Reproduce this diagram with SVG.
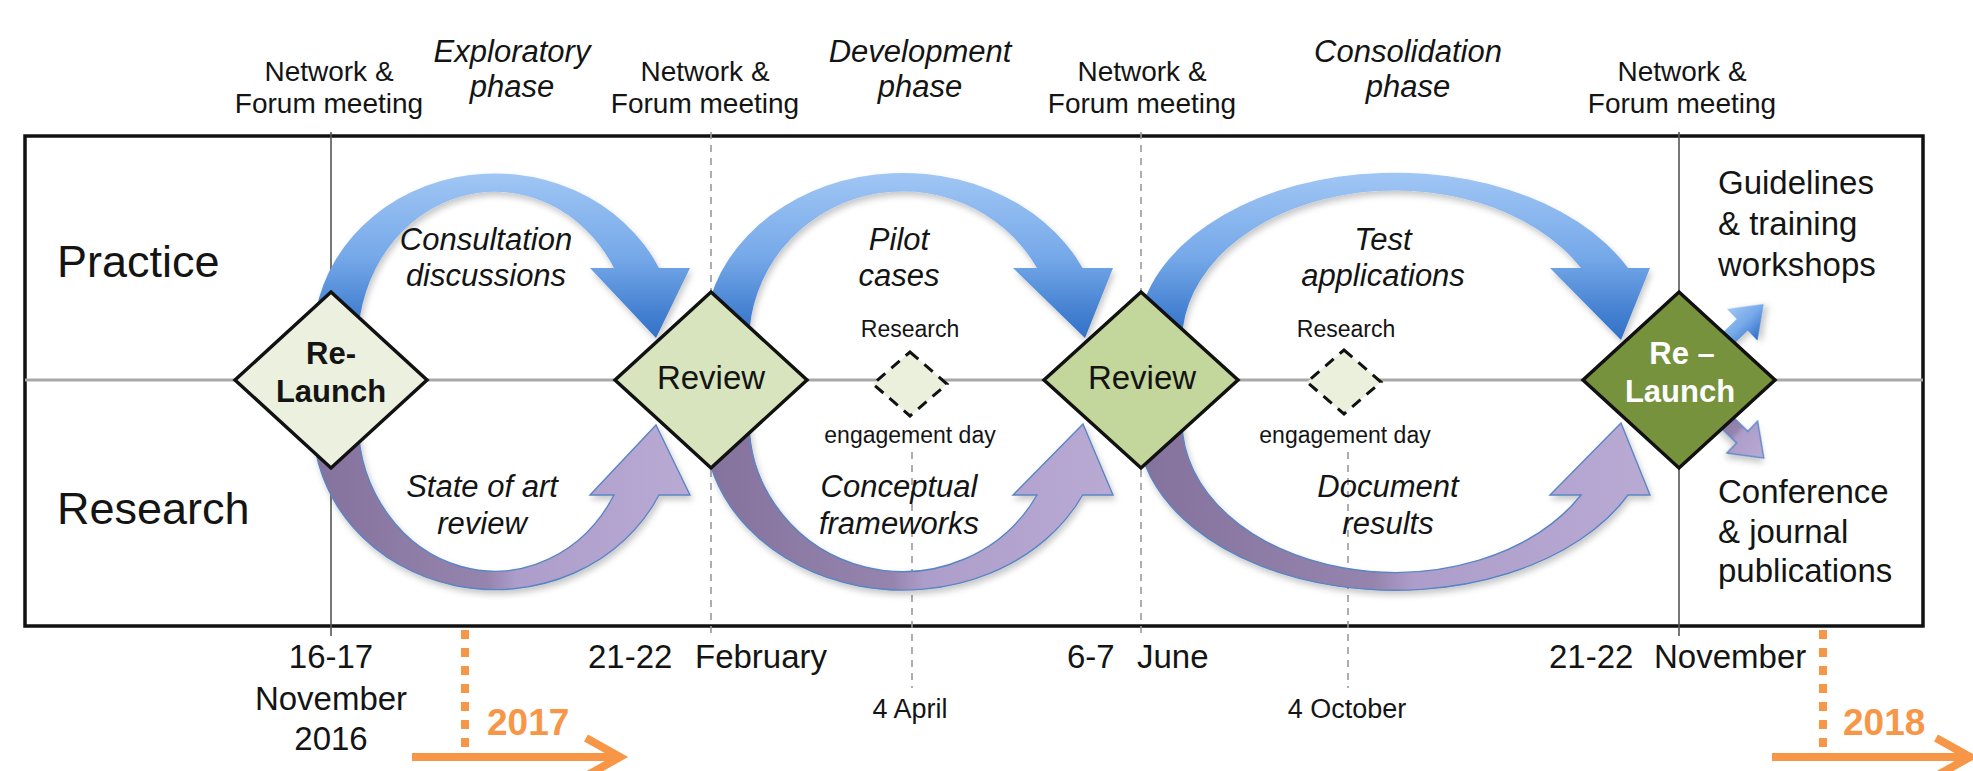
<svg xmlns="http://www.w3.org/2000/svg" width="1973" height="771" viewBox="0 0 1973 771">
<style>
  text { font-family: "Liberation Sans", Arial, sans-serif; fill: #141414; }
  .net { font-size: 28px; text-anchor: middle; }
  .phase { font-size: 31px; font-style: italic; text-anchor: middle; }
  .lane { font-size: 45px; }
  .lbl { font-size: 31px; font-style: italic; text-anchor: middle; }
  .small { font-size: 23px; text-anchor: middle; }
  .date { font-size: 33px; }
  .datec { font-size: 33px; text-anchor: middle; }
  .dsmall { font-size: 27px; text-anchor: middle; }
  .out { font-size: 33px; }
  .year { font-size: 37px; font-weight: bold; fill: #f79646; }
  .dtext { font-size: 33px; text-anchor: middle; }
  .btext { font-size: 31px; font-weight: bold; text-anchor: middle; }
  .diamond { stroke: #111; stroke-width: 3.5; stroke-linejoin: miter; }
  .sdiamond { fill: #eaf0dc; stroke: #111; stroke-width: 3; stroke-dasharray: 11 8; }
  .vsolid { stroke: #555; stroke-width: 1.6; }
  .vdash { stroke: #9a9a9a; stroke-width: 1.6; stroke-dasharray: 7 6; }
  .blue { fill: url(#gBlue); filter: url(#shadow); }
  .purple { fill: url(#gPurple); stroke: #5a85c4; stroke-width: 1.4; filter: url(#shadow); }
  .orange { stroke: #f79646; stroke-width: 8; fill: none; }
</style>
<defs>
  <linearGradient id="gBlue" x1="0" y1="0" x2="0" y2="1">
    <stop offset="0" stop-color="#a0c6f4"/>
    <stop offset="0.5" stop-color="#76a9e9"/>
    <stop offset="0.85" stop-color="#427fd0"/>
    <stop offset="1" stop-color="#3270c6"/>
  </linearGradient>
  <linearGradient id="gPurple" x1="0" y1="0" x2="1" y2="0">
    <stop offset="0" stop-color="#84729c"/>
    <stop offset="0.46" stop-color="#9584ad"/>
    <stop offset="0.54" stop-color="#ad9dca"/>
    <stop offset="1" stop-color="#b9aad4"/>
  </linearGradient>
  <filter id="shadow" x="-10%" y="-10%" width="120%" height="125%">
    <feDropShadow dx="2" dy="4" stdDeviation="3" flood-color="#000" flood-opacity="0.22"/>
  </filter>
</defs>

<rect x="0" y="0" width="1973" height="771" fill="#ffffff"/>

<g id="frame">
  <rect x="25" y="136" width="1898" height="490" fill="#ffffff" stroke="#111" stroke-width="3.5"/>
  <line x1="25" y1="380" x2="1923" y2="380" stroke="#a8a8a8" stroke-width="3"/>
  <line class="vsolid" x1="331" y1="132" x2="331" y2="636"/>
  <line class="vsolid" x1="1679" y1="132" x2="1679" y2="636"/>
  <line class="vdash" x1="711" y1="132" x2="711" y2="636"/>
  <line class="vdash" x1="1141" y1="132" x2="1141" y2="636"/>
  <line class="vdash" x1="912" y1="452" x2="912" y2="688"/>
  <line class="vdash" x1="1348" y1="452" x2="1348" y2="688"/>
</g>

<g id="lanes">
  <text class="lane" x="57" y="277">Practice</text>
  <text class="lane" x="57" y="524">Research</text>
</g>

<g id="top-labels">
  <text class="net" x="329" y="81">Network &amp;</text>
  <text class="net" x="329" y="113">Forum meeting</text>
  <text class="net" x="705" y="81">Network &amp;</text>
  <text class="net" x="705" y="113">Forum meeting</text>
  <text class="net" x="1142" y="81">Network &amp;</text>
  <text class="net" x="1142" y="113">Forum meeting</text>
  <text class="net" x="1682" y="81">Network &amp;</text>
  <text class="net" x="1682" y="113">Forum meeting</text>
  <text class="phase" x="512" y="62">Exploratory</text>
  <text class="phase" x="512" y="97">phase</text>
  <text class="phase" x="920" y="62">Development</text>
  <text class="phase" x="920" y="97">phase</text>
  <text class="phase" x="1408" y="62">Consolidation</text>
  <text class="phase" x="1408" y="97">phase</text>
</g>

<g id="connectors">
  <!-- blue (practice) arcs -->
  <path class="blue" d="M313,340 A182,167 0 0 1 659,268 L690,268 L656,338 L590,268 L614,268 A137,151 0 0 0 358,340 Z"/>
  <path class="blue" d="M704,340 A199,167 0 0 1 1082.6,268 L1113,268 L1085,338 L1013,268 L1037,268 A154,151 0 0 0 749,340 Z"/>
  <path class="blue" d="M1137,340 A258,167 0 0 1 1628,268 L1650,268 L1621,340 L1550,268 L1581,268 A213,151 0 0 0 1182,340 Z"/>
  <!-- purple (research) arcs -->
  <path class="purple" d="M313,423 A182,167 0 0 0 659,495 L690,495 L656,425 L590,495 L614,495 A137,151 0 0 1 358,423 Z"/>
  <path class="purple" d="M704,423 A199,167 0 0 0 1082.6,495 L1113,495 L1083,424 L1013,495 L1037,495 A154,151 0 0 1 749,423 Z"/>
  <path class="purple" d="M1137,423 A258,167 0 0 0 1628,495 L1650,495 L1621,423 L1550,495 L1581,495 A213,151 0 0 1 1182,423 Z"/>
  <!-- outputs from final re-launch -->
  <polygon class="blue" transform="translate(1712,354) rotate(-44)" points="0,-8 42,-8 42,-22 72,0 42,22 42,8 0,8"/>
  <polygon class="purple" transform="translate(1712,408) rotate(44)" points="0,-8 42,-8 42,-22 72,0 42,22 42,8 0,8"/>
</g>

<g id="node-relaunch-1">
  <polygon class="diamond" fill="#ebf1de" points="331,292 427,380 331,468 235,380"/>
  <text class="btext" x="331" y="364">Re-</text>
  <text class="btext" x="331" y="402">Launch</text>
</g>
<g id="node-review-1">
  <polygon class="diamond" fill="#d7e4bd" points="711,292 807,380 711,468 615,380"/>
  <text class="dtext" x="711" y="389">Review</text>
</g>
<g id="node-review-2">
  <polygon class="diamond" fill="#c3d69b" points="1141,292 1238,380 1141,468 1044,380"/>
  <text class="dtext" x="1142" y="389">Review</text>
</g>
<g id="node-relaunch-2">
  <polygon class="diamond" fill="#76923c" points="1679,292 1775,380 1679,468 1583,380"/>
  <text class="btext" x="1682" y="364" style="fill:#ffffff">Re –</text>
  <text class="btext" x="1680" y="402" style="fill:#ffffff">Launch</text>
</g>
<g id="node-engagement-1">
  <text class="small" x="910" y="337">Research</text>
  <polygon class="sdiamond" points="910,352 947,384 910,416 873,384"/>
  <text class="small" x="910" y="443">engagement day</text>
</g>
<g id="node-engagement-2">
  <text class="small" x="1346" y="337">Research</text>
  <polygon class="sdiamond" points="1344,350 1381,382 1344,414 1307,382"/>
  <text class="small" x="1345" y="443">engagement day</text>
</g>

<g id="arc-labels">
  <text class="lbl" x="486" y="250">Consultation</text>
  <text class="lbl" x="486" y="286">discussions</text>
  <text class="lbl" x="482" y="497">State of art</text>
  <text class="lbl" x="482" y="534">review</text>
  <text class="lbl" x="899" y="250">Pilot</text>
  <text class="lbl" x="899" y="286">cases</text>
  <text class="lbl" x="899" y="497">Conceptual</text>
  <text class="lbl" x="899" y="534">frameworks</text>
  <text class="lbl" x="1383" y="250">Test</text>
  <text class="lbl" x="1383" y="286">applications</text>
  <text class="lbl" x="1388" y="497">Document</text>
  <text class="lbl" x="1388" y="534">results</text>
</g>

<g id="outputs">
  <text class="out" x="1718" y="194">Guidelines</text>
  <text class="out" x="1718" y="235">&amp; training</text>
  <text class="out" x="1718" y="276">workshops</text>
  <text class="out" x="1718" y="503">Conference</text>
  <text class="out" x="1718" y="543">&amp; journal</text>
  <text class="out" x="1718" y="582">publications</text>
</g>

<g id="dates">
  <text class="datec" x="331" y="668">16-17</text>
  <text class="datec" x="331" y="710">November</text>
  <text class="datec" x="331" y="750">2016</text>
  <text class="date" x="588" y="668">21-22<tspan x="695">February</tspan></text>
  <text class="date" x="1067" y="668">6-7<tspan x="1137">June</tspan></text>
  <text class="date" x="1549" y="668">21-22<tspan x="1654">November</tspan></text>
  <text class="dsmall" x="910" y="718">4 April</text>
  <text class="dsmall" x="1347" y="718">4 October</text>
</g>

<g id="timeline">
  <line class="orange" x1="465" y1="630" x2="465" y2="752" stroke-dasharray="9 9"/>
  <line class="orange" x1="412" y1="757" x2="618" y2="757"/>
  <polyline class="orange" points="586,738 620,757 586,776"/>
  <text class="year" x="487" y="735">2017</text>
  <line class="orange" x1="1823" y1="630" x2="1823" y2="752" stroke-dasharray="9 9"/>
  <line class="orange" x1="1772" y1="757" x2="1966" y2="757"/>
  <polyline class="orange" points="1936,738 1970,757 1936,776"/>
  <text class="year" x="1843" y="735">2018</text>
</g>
</svg>
